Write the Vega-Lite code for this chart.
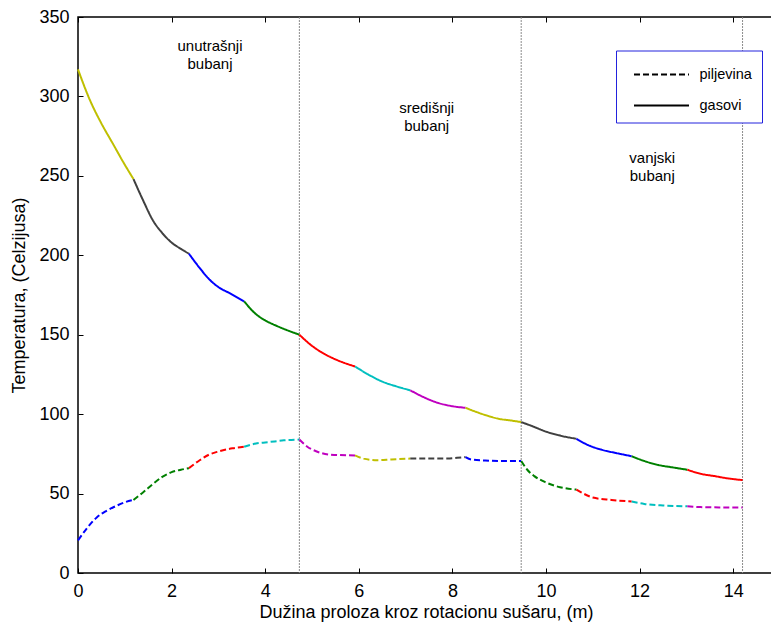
{
  "$schema": "https://vega.github.io/schema/vega-lite/v6.json",
  "autosize": {"type": "none"},
  "padding": {"left": 78, "top": 17, "right": 0, "bottom": 50},
  "width": 702,
  "height": 556,
  "config": {
    "font": "Liberation Sans",
    "view": {"stroke": "black", "strokeWidth": 1.5},
    "axis": {"domainColor": "black", "tickColor": "black", "labelColor": "black", "titleColor": "black", "labelFont": "Liberation Sans", "titleFont": "Liberation Sans", "labelFontSize": 18, "titleFontSize": 18, "titleFontWeight": "normal", "grid": false, "labelFlush": false}
  },
  "datasets": {
    "curves": [
      {"seg": "g01", "type": "gasovi", "x": 0, "y": 317},
      {"seg": "g01", "type": "gasovi", "x": 0.25, "y": 298},
      {"seg": "g01", "type": "gasovi", "x": 0.5, "y": 283},
      {"seg": "g01", "type": "gasovi", "x": 0.75, "y": 270},
      {"seg": "g01", "type": "gasovi", "x": 1.0, "y": 257},
      {"seg": "g01", "type": "gasovi", "x": 1.185, "y": 248},
      {"seg": "g02", "type": "gasovi", "x": 1.185, "y": 248},
      {"seg": "g02", "type": "gasovi", "x": 1.4, "y": 234},
      {"seg": "g02", "type": "gasovi", "x": 1.6, "y": 222},
      {"seg": "g02", "type": "gasovi", "x": 1.8, "y": 214},
      {"seg": "g02", "type": "gasovi", "x": 2.0, "y": 208},
      {"seg": "g02", "type": "gasovi", "x": 2.2, "y": 204},
      {"seg": "g02", "type": "gasovi", "x": 2.37, "y": 201},
      {"seg": "g03", "type": "gasovi", "x": 2.37, "y": 201},
      {"seg": "g03", "type": "gasovi", "x": 2.6, "y": 192},
      {"seg": "g03", "type": "gasovi", "x": 2.8, "y": 185},
      {"seg": "g03", "type": "gasovi", "x": 3.0, "y": 180},
      {"seg": "g03", "type": "gasovi", "x": 3.25, "y": 176},
      {"seg": "g03", "type": "gasovi", "x": 3.55, "y": 171},
      {"seg": "g04", "type": "gasovi", "x": 3.55, "y": 171},
      {"seg": "g04", "type": "gasovi", "x": 3.8, "y": 163},
      {"seg": "g04", "type": "gasovi", "x": 4.0, "y": 159},
      {"seg": "g04", "type": "gasovi", "x": 4.25, "y": 155.5},
      {"seg": "g04", "type": "gasovi", "x": 4.5, "y": 152.5},
      {"seg": "g04", "type": "gasovi", "x": 4.73, "y": 150},
      {"seg": "g05", "type": "gasovi", "x": 4.73, "y": 150},
      {"seg": "g05", "type": "gasovi", "x": 5.0, "y": 143},
      {"seg": "g05", "type": "gasovi", "x": 5.2, "y": 139},
      {"seg": "g05", "type": "gasovi", "x": 5.5, "y": 134.5},
      {"seg": "g05", "type": "gasovi", "x": 5.92, "y": 130},
      {"seg": "g06", "type": "gasovi", "x": 5.92, "y": 130},
      {"seg": "g06", "type": "gasovi", "x": 6.2, "y": 125},
      {"seg": "g06", "type": "gasovi", "x": 6.5, "y": 120.5},
      {"seg": "g06", "type": "gasovi", "x": 6.8, "y": 117.5},
      {"seg": "g06", "type": "gasovi", "x": 7.1, "y": 115},
      {"seg": "g07", "type": "gasovi", "x": 7.1, "y": 115},
      {"seg": "g07", "type": "gasovi", "x": 7.4, "y": 110.5},
      {"seg": "g07", "type": "gasovi", "x": 7.7, "y": 107},
      {"seg": "g07", "type": "gasovi", "x": 8.0, "y": 105},
      {"seg": "g07", "type": "gasovi", "x": 8.28, "y": 104},
      {"seg": "g08", "type": "gasovi", "x": 8.28, "y": 104},
      {"seg": "g08", "type": "gasovi", "x": 8.5, "y": 101.5},
      {"seg": "g08", "type": "gasovi", "x": 8.75, "y": 99},
      {"seg": "g08", "type": "gasovi", "x": 9.0, "y": 97},
      {"seg": "g08", "type": "gasovi", "x": 9.25, "y": 96},
      {"seg": "g08", "type": "gasovi", "x": 9.47, "y": 95},
      {"seg": "g09", "type": "gasovi", "x": 9.47, "y": 95},
      {"seg": "g09", "type": "gasovi", "x": 9.7, "y": 92.5},
      {"seg": "g09", "type": "gasovi", "x": 10.0, "y": 89},
      {"seg": "g09", "type": "gasovi", "x": 10.3, "y": 86.5},
      {"seg": "g09", "type": "gasovi", "x": 10.65, "y": 84.5},
      {"seg": "g10", "type": "gasovi", "x": 10.65, "y": 84.5},
      {"seg": "g10", "type": "gasovi", "x": 10.9, "y": 80.5},
      {"seg": "g10", "type": "gasovi", "x": 11.2, "y": 77.5},
      {"seg": "g10", "type": "gasovi", "x": 11.5, "y": 75.5},
      {"seg": "g10", "type": "gasovi", "x": 11.83, "y": 73.5},
      {"seg": "g11", "type": "gasovi", "x": 11.83, "y": 73.5},
      {"seg": "g11", "type": "gasovi", "x": 12.1, "y": 70.5},
      {"seg": "g11", "type": "gasovi", "x": 12.4, "y": 68},
      {"seg": "g11", "type": "gasovi", "x": 12.7, "y": 66.5},
      {"seg": "g11", "type": "gasovi", "x": 13.02, "y": 65},
      {"seg": "g12", "type": "gasovi", "x": 13.02, "y": 65},
      {"seg": "g12", "type": "gasovi", "x": 13.3, "y": 62.5},
      {"seg": "g12", "type": "gasovi", "x": 13.6, "y": 61},
      {"seg": "g12", "type": "gasovi", "x": 13.9, "y": 59.5},
      {"seg": "g12", "type": "gasovi", "x": 14.2, "y": 58.5},
      {"seg": "p01", "type": "piljevina", "x": 0, "y": 20.5},
      {"seg": "p01", "type": "piljevina", "x": 0.2, "y": 28.5},
      {"seg": "p01", "type": "piljevina", "x": 0.4, "y": 35},
      {"seg": "p01", "type": "piljevina", "x": 0.6, "y": 39},
      {"seg": "p01", "type": "piljevina", "x": 0.8, "y": 42},
      {"seg": "p01", "type": "piljevina", "x": 1.0, "y": 44.5},
      {"seg": "p01", "type": "piljevina", "x": 1.185, "y": 46},
      {"seg": "p02", "type": "piljevina", "x": 1.185, "y": 46},
      {"seg": "p02", "type": "piljevina", "x": 1.4, "y": 51},
      {"seg": "p02", "type": "piljevina", "x": 1.6, "y": 56},
      {"seg": "p02", "type": "piljevina", "x": 1.8, "y": 60.5},
      {"seg": "p02", "type": "piljevina", "x": 2.0, "y": 63.5},
      {"seg": "p02", "type": "piljevina", "x": 2.2, "y": 65},
      {"seg": "p02", "type": "piljevina", "x": 2.37, "y": 66},
      {"seg": "p03", "type": "piljevina", "x": 2.37, "y": 66},
      {"seg": "p03", "type": "piljevina", "x": 2.6, "y": 71},
      {"seg": "p03", "type": "piljevina", "x": 2.8, "y": 74.5},
      {"seg": "p03", "type": "piljevina", "x": 3.0, "y": 76.5},
      {"seg": "p03", "type": "piljevina", "x": 3.3, "y": 78.5},
      {"seg": "p03", "type": "piljevina", "x": 3.55, "y": 79.5},
      {"seg": "p04", "type": "piljevina", "x": 3.55, "y": 79.5},
      {"seg": "p04", "type": "piljevina", "x": 3.8, "y": 81.5},
      {"seg": "p04", "type": "piljevina", "x": 4.1, "y": 82.5},
      {"seg": "p04", "type": "piljevina", "x": 4.4, "y": 83.5},
      {"seg": "p04", "type": "piljevina", "x": 4.73, "y": 84},
      {"seg": "p05", "type": "piljevina", "x": 4.73, "y": 84},
      {"seg": "p05", "type": "piljevina", "x": 4.9, "y": 79.5},
      {"seg": "p05", "type": "piljevina", "x": 5.1, "y": 76.5},
      {"seg": "p05", "type": "piljevina", "x": 5.4, "y": 74.5},
      {"seg": "p05", "type": "piljevina", "x": 5.92, "y": 74},
      {"seg": "p06", "type": "piljevina", "x": 5.92, "y": 74},
      {"seg": "p06", "type": "piljevina", "x": 6.1, "y": 72},
      {"seg": "p06", "type": "piljevina", "x": 6.4, "y": 71},
      {"seg": "p06", "type": "piljevina", "x": 6.7, "y": 71.5},
      {"seg": "p06", "type": "piljevina", "x": 7.1, "y": 72},
      {"seg": "p07", "type": "piljevina", "x": 7.1, "y": 72},
      {"seg": "p07", "type": "piljevina", "x": 7.5, "y": 72},
      {"seg": "p07", "type": "piljevina", "x": 7.9, "y": 72},
      {"seg": "p07", "type": "piljevina", "x": 8.1, "y": 72.5},
      {"seg": "p07", "type": "piljevina", "x": 8.28, "y": 73},
      {"seg": "p08", "type": "piljevina", "x": 8.28, "y": 73},
      {"seg": "p08", "type": "piljevina", "x": 8.4, "y": 71.5},
      {"seg": "p08", "type": "piljevina", "x": 8.7, "y": 70.8},
      {"seg": "p08", "type": "piljevina", "x": 9.0, "y": 70.5},
      {"seg": "p08", "type": "piljevina", "x": 9.47, "y": 70.5},
      {"seg": "p09", "type": "piljevina", "x": 9.47, "y": 70.5},
      {"seg": "p09", "type": "piljevina", "x": 9.6, "y": 65},
      {"seg": "p09", "type": "piljevina", "x": 9.75, "y": 61},
      {"seg": "p09", "type": "piljevina", "x": 10.0, "y": 57},
      {"seg": "p09", "type": "piljevina", "x": 10.3, "y": 54},
      {"seg": "p09", "type": "piljevina", "x": 10.65, "y": 52.5},
      {"seg": "p10", "type": "piljevina", "x": 10.65, "y": 52.5},
      {"seg": "p10", "type": "piljevina", "x": 10.8, "y": 50},
      {"seg": "p10", "type": "piljevina", "x": 11.0, "y": 47.5},
      {"seg": "p10", "type": "piljevina", "x": 11.4, "y": 46},
      {"seg": "p10", "type": "piljevina", "x": 11.83, "y": 45},
      {"seg": "p11", "type": "piljevina", "x": 11.83, "y": 45},
      {"seg": "p11", "type": "piljevina", "x": 12.1, "y": 43.5},
      {"seg": "p11", "type": "piljevina", "x": 12.5, "y": 42.5},
      {"seg": "p11", "type": "piljevina", "x": 13.02, "y": 42},
      {"seg": "p12", "type": "piljevina", "x": 13.02, "y": 42},
      {"seg": "p12", "type": "piljevina", "x": 13.3, "y": 41.5},
      {"seg": "p12", "type": "piljevina", "x": 13.7, "y": 41.3},
      {"seg": "p12", "type": "piljevina", "x": 14.2, "y": 41.3}
    ],
    "bounds": [{"x": 4.73}, {"x": 9.47}, {"x": 14.2}],
    "labels": [
      {"x": 2.82, "y": 336, "label": ["unutrašnji", "bubanj"]},
      {"x": 7.45, "y": 297, "label": ["središnji", "bubanj"]},
      {"x": 12.27, "y": 265.5, "label": ["vanjski", "bubanj"]}
    ]
  },
  "resolve": {"axis": {"x": "independent", "y": "independent"}},
  "layer": [
    {
      "data": {"name": "bounds"},
      "mark": {"type": "rule", "color": "#8c8c8c", "strokeWidth": 1, "strokeDash": [2, 1]},
      "encoding": {
        "x": {"field": "x", "type": "quantitative", "scale": {"domain": [0, 15], "nice": false, "zero": false},
              "axis": {"orient": "top", "values": [0, 2, 4, 6, 8, 10, 12, 14], "labels": false, "domain": false, "tickSize": 5, "title": null, "ticks": true, "offset": -5}}
      }
    },
    {
      "data": {"name": "curves"},
      "mark": {"type": "line", "strokeWidth": 2, "interpolate": "monotone"},
      "encoding": {
        "x": {"field": "x", "type": "quantitative", "scale": {"domain": [0, 15], "nice": false, "zero": false},
              "axis": {"values": [0, 2, 4, 6, 8, 10, 12, 14], "tickSize": 5, "offset": -5, "labelPadding": 9, "domain": false, "title": "Dužina proloza kroz rotacionu sušaru, (m)", "titlePadding": 3, "titleX": 348}},
        "y": {"field": "y", "type": "quantitative", "scale": {"domain": [0, 350], "nice": false},
              "axis": {"values": [0, 50, 100, 150, 200, 250, 300, 350], "tickSize": 5, "offset": -5, "labelPadding": 9, "domain": false, "title": "Temperatura, (Celzijusa)", "titlePadding": 10}},
        "detail": {"field": "seg"},
        "color": {"field": "seg", "type": "nominal", "legend": null,
                  "scale": {"domain": ["g01","g02","g03","g04","g05","g06","g07","g08","g09","g10","g11","g12","p01","p02","p03","p04","p05","p06","p07","p08","p09","p10","p11","p12"],
                            "range": ["#BFBF00","#404040","#0000FF","#008000","#FF0000","#00BFBF","#BF00BF","#BFBF00","#404040","#0000FF","#008000","#FF0000","#0000FF","#008000","#FF0000","#00BFBF","#BF00BF","#BFBF00","#404040","#0000FF","#008000","#FF0000","#00BFBF","#BF00BF"]}},
        "strokeDash": {"field": "type", "type": "nominal",
                       "scale": {"domain": ["piljevina", "gasovi"], "range": [[6, 3], [1, 0]]},
                       "legend": {"title": null, "orient": "none", "legendX": 538, "legendY": 33.5, "direction": "vertical",
                                  "symbolType": "M-2.115,0H2.115", "symbolSize": 676, "symbolStrokeColor": "black", "symbolStrokeWidth": 2,
                                  "symbolOffset": 21.5, "labelOffset": 24, "padding": 10, "rowPadding": 10, "columnPadding": 0,
                                  "labelFontSize": 14.5, "labelFont": "Liberation Sans", "labelColor": "black",
                                  "strokeColor": "#2222dd", "fillColor": "white"}}
      }
    },
    {
      "data": {"name": "labels"},
      "mark": {"type": "text", "font": "Liberation Sans", "fontSize": 15, "align": "center", "baseline": "top", "lineHeight": 18, "color": "black"},
      "encoding": {
        "x": {"field": "x", "type": "quantitative", "scale": {"domain": [0, 15], "nice": false, "zero": false}, "axis": null},
        "y": {"field": "y", "type": "quantitative", "scale": {"domain": [0, 350], "nice": false}, "axis": null},
        "text": {"field": "label"}
      }
    }
  ]
}
